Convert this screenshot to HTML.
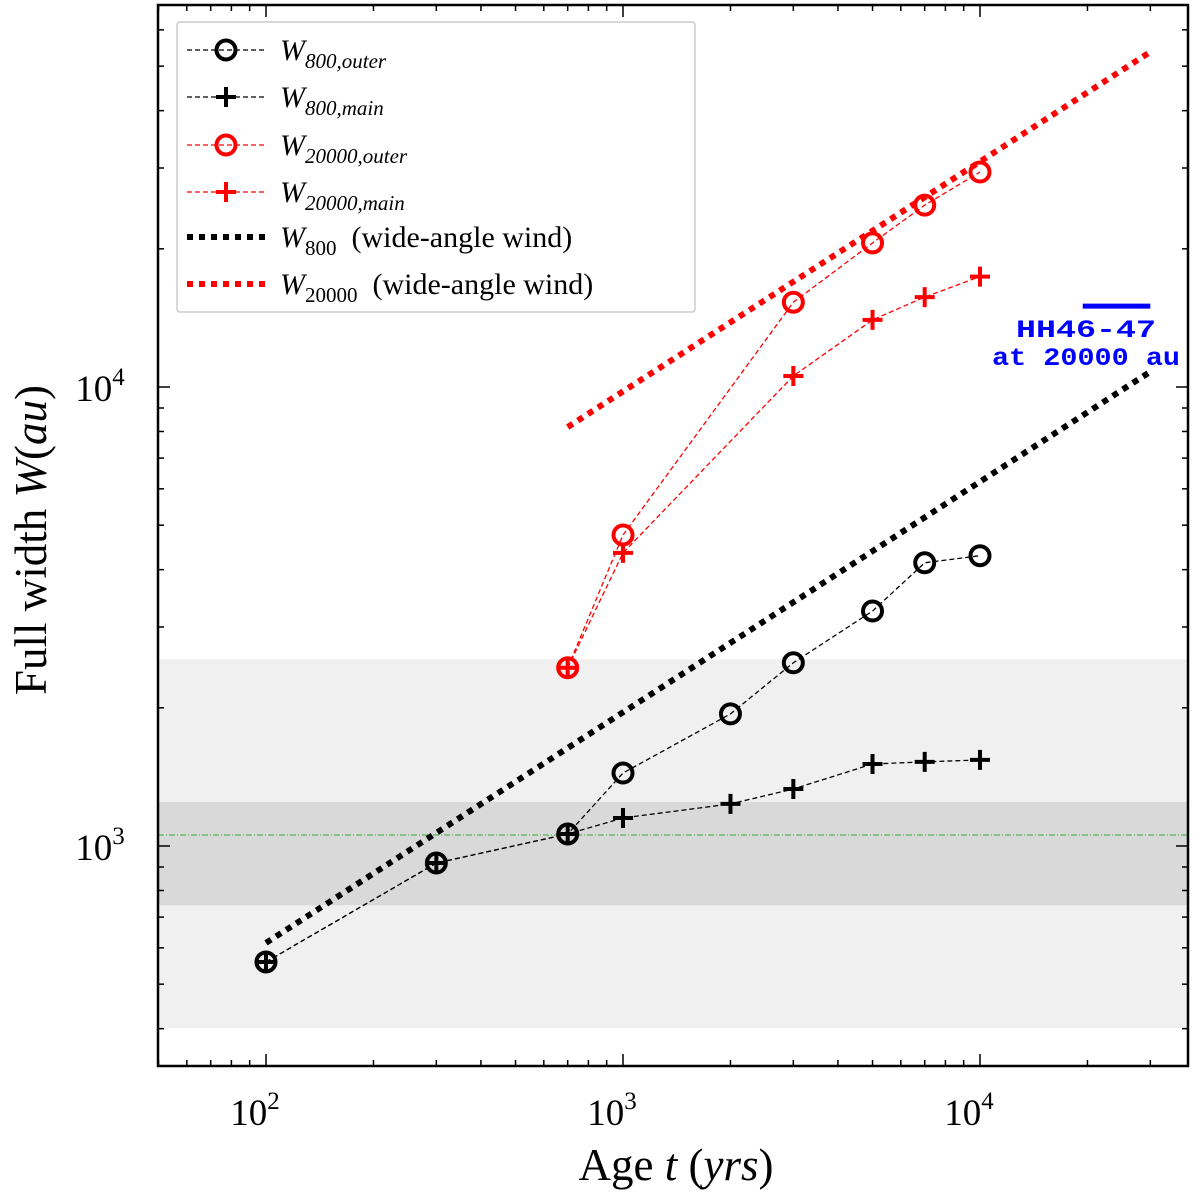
<!DOCTYPE html>
<html><head><meta charset="utf-8"><style>
body{margin:0;background:#fff}
svg{display:block;font-family:"Liberation Serif",serif}
</style></head><body>
<svg id="chart" width="1200" height="1200"></svg>
<script>
const ages=[100,300,700,1000,2000,3000,5000,7000,10000];
const w800Outer=[559,918,1062,1442,1940,2507,3250,4140,4290];
const w800Main=[559,918,1062,1151,1235,1331,1509,1525,1540];
const ages20000=[700,1000,3000,5000,7000,10000];
const w20000Outer=[2445,4760,15300,20600,24900,29400];
const w20000Main=[2445,4350,10570,14000,15700,17400];
const wind800T=[100,30000];
const wind800W=[615,10800];
const wind20000T=[700,30000];
const wind20000W=[8180,53700];
const lightBand=[401,2550];
const darkBand=[743,1247];
const greenLineW=1057;
const hhT=[19400,30000];
const hhW=15000;
const xMajor=[100,1000,10000];
const xMajorLabels=["2","3","4"];
const yMajor=[1000,10000];
const yMajorLabels=["3","4"];

const L=158,R=1188,T=5,B=1066;
const X=t=>623+357*(Math.log10(t)-3);
const Y=w=>846-459*(Math.log10(w)-3);
const NS="http://www.w3.org/2000/svg";
const svg=document.getElementById('chart');
function mk(tag,attrs,parent){const e=document.createElementNS(NS,tag);for(const k in attrs)e.setAttribute(k,attrs[k]);(parent||svg).appendChild(e);return e;}

let e;
e=mk('rect',{x:L,y:Y(lightBand[1]),width:R-L,height:Y(lightBand[0])-Y(lightBand[1]),fill:'#f0f0f0'});

e=mk('rect',{x:L,y:Y(darkBand[1]),width:R-L,height:Y(darkBand[0])-Y(darkBand[1]),fill:'#d9d9d9'});

e=mk('line',{x1:L,x2:R,y1:Y(greenLineW),y2:Y(greenLineW),stroke:'#3a3','stroke-width':1,'stroke-dasharray':'6 2 1 2'});


function wind(ts,ws,color,name){
  const g=mk('line',{x1:X(ts[0]),y1:Y(ws[0]),x2:X(ts[1]),y2:Y(ws[1]),stroke:color,'stroke-width':6,'stroke-dasharray':'6 6'});
  
}
wind(wind800T,wind800W,'#000','wind-800-line');
wind(wind20000T,wind20000W,'#f00','wind-20000-line');

function series(ts,ws,color,marker,name){
  const g=mk('g',{});
  
  mk('polyline',{points:ts.map((t,i)=>X(t)+','+Y(ws[i])).join(' '),fill:'none',stroke:color,'stroke-width':1.3,'stroke-dasharray':'5 3'},g);
  ts.forEach((t,i)=>drawMarker(g,X(t),Y(ws[i]),color,marker));
}
function drawMarker(g,x,y,color,marker){
  if(marker==='o')mk('circle',{cx:x,cy:y,r:9.5,fill:'none',stroke:color,'stroke-width':4},g);
  else mk('path',{d:`M${x-10},${y}H${x+10}M${x},${y-10}V${y+10}`,stroke:color,'stroke-width':4},g);
}
series(ages,w800Main,'#000','+','w800-main-series');
series(ages,w800Outer,'#000','o','w800-outer-series');
series(ages20000,w20000Main,'#f00','+','w20000-main-series');
series(ages20000,w20000Outer,'#f00','o','w20000-outer-series');

e=mk('line',{x1:X(hhT[0]),x2:X(hhT[1]),y1:Y(hhW),y2:Y(hhW),stroke:'#00f','stroke-width':5});

e=mk('text',{x:1086,y:337,'text-anchor':'middle','font-size':25,'font-weight':'bold',fill:'#00f','font-family':'Liberation Mono, monospace',textLength:140,lengthAdjust:'spacingAndGlyphs'});
e.textContent='HH46-47';
e=mk('text',{x:1086,y:365,'text-anchor':'middle','font-size':25,'font-weight':'bold',fill:'#00f','font-family':'Liberation Mono, monospace',textLength:188,lengthAdjust:'spacingAndGlyphs'});
e.textContent='at 20000 au';

e=mk('rect',{x:L,y:T,width:R-L,height:B-T,fill:'none',stroke:'#000','stroke-width':2.5});

const tg=mk('g',{stroke:'#000','stroke-width':1.5});

for(let d=1;d<=4;d++)for(let m=1;m<10;m++){const t=m*Math.pow(10,d);const x=X(t);if(x<=L||x>=R)continue;const len=m===1?12:6;
  mk('line',{x1:x,x2:x,y1:B,y2:B-len},tg);mk('line',{x1:x,x2:x,y1:T,y2:T+len},tg);}
for(let d=2;d<=4;d++)for(let m=1;m<10;m++){const w=m*Math.pow(10,d);const y=Y(w);if(y<=T||y>=B)continue;const len=m===1?12:6;
  mk('line',{x1:L,x2:L+len,y1:y,y2:y},tg);mk('line',{x1:R,x2:R-len,y1:y,y2:y},tg);}
xMajor.forEach((t,i)=>{const tx=mk('text',{x:X(t)-11,y:1125,'text-anchor':'middle','font-size':37});
  tx.textContent='10';const s=mk('tspan',{dy:-16,'font-size':25},tx);s.textContent=xMajorLabels[i];
  });
yMajor.forEach((w,i)=>{const tx=mk('text',{x:100,y:Y(w)+14,'text-anchor':'middle','font-size':37});
  tx.textContent='10';const s=mk('tspan',{dy:-16,'font-size':25},tx);s.textContent=yMajorLabels[i];
  });
e=mk('text',{x:676,y:1180,'text-anchor':'middle','font-size':45});
e.innerHTML='Age <tspan font-style="italic">t</tspan> (<tspan font-style="italic">yrs</tspan>)';

e=mk('text',{x:0,y:0,'text-anchor':'middle','font-size':45,transform:'translate(46,540) rotate(-90)'});
e.innerHTML='Full width <tspan font-style="italic">W</tspan>(<tspan font-style="italic">au</tspan>)';


const lg=mk('g',{});
mk('rect',{x:177,y:22,width:518,height:290,fill:'#fff',stroke:'#ccc','stroke-width':1.5,rx:3},lg);
const entries=[['#000','o','800','outer',false],['#000','+','800','main',false],['#f00','o','20000','outer',false],['#f00','+','20000','main',false],['#000','w','800','',true],['#f00','w','20000','',true]];
const ly=[50,97,145,192,237,284];
entries.forEach((en,i)=>{const y=ly[i];const g=mk('g',{},lg);
  
  if(en[4])mk('line',{x1:187,x2:265,y1:y,y2:y,stroke:en[0],'stroke-width':6,'stroke-dasharray':'6 6'},g);
  else{mk('line',{x1:187,x2:265,y1:y,y2:y,stroke:en[0],'stroke-width':1.3,'stroke-dasharray':'5 3'},g);drawMarker(g,226,y,en[0],en[1]);}
  const tx=mk('text',{x:280,y:y+10,'font-size':30},g);
  const a=mk('tspan',{'font-style':'italic'},tx);a.textContent='W';
  const b=mk('tspan',{dy:8,'font-size':21,'font-style':en[4]?'normal':'italic'},tx);b.textContent=en[2]+(en[3]?','+en[3]:'');
  if(en[4]){const c=mk('tspan',{dy:-8,'font-size':30},tx);c.textContent='\u00a0\u00a0(wide-angle wind)';}
});
</script>
</body></html>
